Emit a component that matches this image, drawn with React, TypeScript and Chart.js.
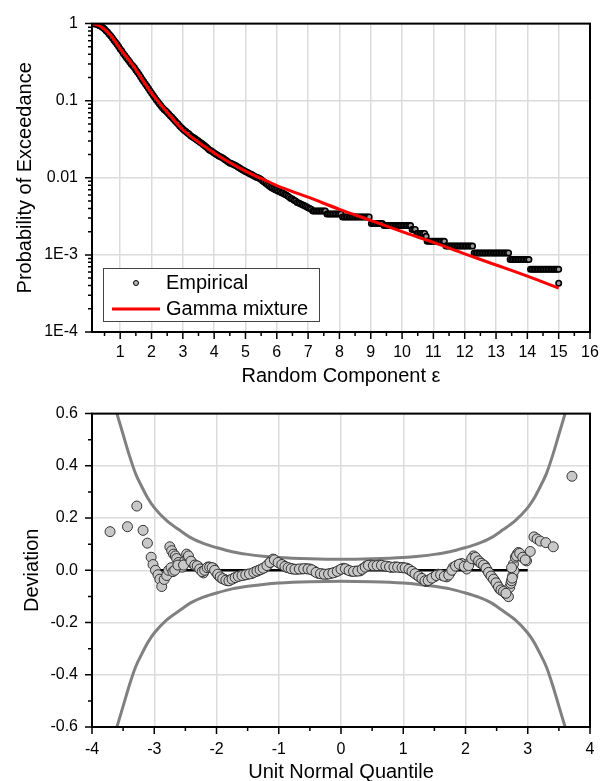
import React, { useEffect, useRef } from "react";
import { Chart, registerables } from "chart.js";

Chart.register(...registerables);

const FONT = "'Liberation Sans', Arial, Helvetica, sans-serif";

// ---------- Top chart data ----------
const empiricalHead: [number, number][] = [
  [0.12, 1.0], [0.16, 0.995], [0.2, 0.99], [0.25, 0.98], [0.3, 0.96], [0.35, 0.94], [0.4, 0.915], [0.45, 0.885],
  [0.5, 0.85], [0.55, 0.81], [0.6, 0.77], [0.65, 0.73], [0.7, 0.69], [0.75, 0.65], [0.8, 0.61], [0.85, 0.575],
  [0.9, 0.54], [0.95, 0.505], [1.0, 0.47], [1.05, 0.44], [1.1, 0.41], [1.15, 0.385], [1.2, 0.36], [1.25, 0.34],
  [1.3, 0.32], [1.35, 0.3], [1.4, 0.285], [1.45, 0.27], [1.5, 0.25], [1.55, 0.235], [1.6, 0.22], [1.65, 0.205],
  [1.7, 0.19], [1.75, 0.178], [1.8, 0.166], [1.85, 0.155], [1.9, 0.145], [1.95, 0.135], [2.0, 0.126], [2.05, 0.118],
  [2.1, 0.11], [2.15, 0.103], [2.2, 0.097], [2.25, 0.091], [2.3, 0.086], [2.35, 0.081], [2.4, 0.077], [2.45, 0.074],
  [2.5, 0.071], [2.55, 0.067], [2.6, 0.064], [2.65, 0.061], [2.7, 0.058], [2.75, 0.055], [2.8, 0.052], [2.85, 0.05],
  [2.9, 0.047], [2.95, 0.045], [3.0, 0.043], [3.05, 0.041], [3.1, 0.04], [3.15, 0.038], [3.2, 0.037], [3.25, 0.035],
  [3.3, 0.034], [3.35, 0.033], [3.4, 0.032], [3.45, 0.031], [3.5, 0.03], [3.55, 0.029], [3.6, 0.028], [3.65, 0.027],
  [3.7, 0.026], [3.75, 0.025], [3.8, 0.024], [3.85, 0.023], [3.9, 0.0225], [3.95, 0.0218], [4.0, 0.021], [4.05, 0.0204],
  [4.1, 0.0197], [4.15, 0.0192], [4.2, 0.0187], [4.25, 0.0183], [4.3, 0.0178], [4.35, 0.0172], [4.4, 0.0166], [4.45, 0.016],
  [4.5, 0.0156], [4.55, 0.0153], [4.6, 0.015], [4.65, 0.0147], [4.7, 0.0143], [4.75, 0.0139], [4.8, 0.0135], [4.85, 0.0131],
  [4.9, 0.0127], [4.95, 0.0124], [5.0, 0.0121], [5.05, 0.0118], [5.1, 0.0115], [5.15, 0.0112], [5.2, 0.011], [5.25, 0.0107],
  [5.3, 0.0104], [5.35, 0.0102], [5.4, 0.01], [5.45, 0.0098], [5.5, 0.0095], [5.55, 0.0091], [5.6, 0.0088], [5.65, 0.0085],
  [5.7, 0.0082], [5.75, 0.0079], [5.8, 0.0076], [5.85, 0.0074], [5.9, 0.0072], [5.95, 0.007], [6.0, 0.0069], [6.05, 0.0067],
  [6.1, 0.0066], [6.15, 0.0064], [6.2, 0.0063], [6.25, 0.0061], [6.3, 0.006], [6.35, 0.0058], [6.4, 0.0056], [6.45, 0.0054],
  [6.5, 0.0053], [6.55, 0.0051], [6.6, 0.005], [6.65, 0.0048], [6.7, 0.0047], [6.75, 0.0046], [6.8, 0.0045], [6.85, 0.0044],
  [6.9, 0.0043], [6.95, 0.0042], [7.0, 0.0041], [7.05, 0.004], [7.1, 0.0039],
];

const empiricalTailSteps: { y: number; x: number[] }[] = [
  { y: 0.0037, x: [7.15, 7.2, 7.25, 7.3, 7.35, 7.4, 7.45, 7.5, 7.55] },
  { y: 0.0034, x: [7.6, 7.65, 7.7, 7.75, 7.8, 7.85, 7.9, 7.95, 8.0, 8.05] },
  { y: 0.0031, x: [8.1, 8.15, 8.2, 8.25, 8.3, 8.35, 8.4, 8.45, 8.5, 8.55, 8.6, 8.65, 8.7, 8.75, 8.8, 8.85, 8.9, 8.95] },
  { y: 0.00255, x: [9.02, 9.07, 9.12, 9.17, 9.22, 9.27, 9.32, 9.37] },
  { y: 0.0024, x: [9.42, 9.47, 9.52, 9.57, 9.62, 9.67, 9.72, 9.77, 9.82, 9.87, 9.92, 9.97, 10.02, 10.07, 10.12, 10.17, 10.22, 10.27] },
  { y: 0.00214, x: [10.32, 10.37, 10.42] },
  { y: 0.0019, x: [10.47, 10.52, 10.57, 10.62, 10.67, 10.72] },
  { y: 0.00174, x: [10.77] },
  { y: 0.0015, x: [10.8, 10.85, 10.9, 10.95, 11.0, 11.05, 11.1, 11.15, 11.2, 11.25, 11.3, 11.35] },
  { y: 0.0013, x: [11.4, 11.45, 11.5, 11.55, 11.6, 11.65, 11.7, 11.75, 11.8, 11.85, 11.9, 11.95, 12.0, 12.05, 12.1, 12.15, 12.2, 12.25] },
  { y: 0.00106, x: [12.3, 12.35, 12.4, 12.45, 12.5, 12.55, 12.6, 12.65, 12.7, 12.75, 12.8, 12.85, 12.9, 12.95, 13.0, 13.05, 13.1, 13.15, 13.2, 13.25, 13.3, 13.35, 13.4] },
  { y: 0.00087, x: [13.45, 13.5, 13.55, 13.6, 13.65, 13.7, 13.75, 13.8, 13.85, 13.9, 13.95, 14.0, 14.05] },
  { y: 0.00065, x: [14.1, 14.15, 14.2, 14.25, 14.3, 14.35, 14.4, 14.45, 14.5, 14.55, 14.6, 14.65, 14.7, 14.75, 14.8, 14.85, 14.9, 14.95, 15.0] },
  { y: 0.00043, x: [15.0] },
];

const gammaX = [0.1, 0.35, 0.7, 1.0, 1.4, 2.0, 2.5, 3.0, 4.0, 5.0, 5.5, 6.0, 7.0, 8.0, 9.0, 10.0, 11.0, 12.0, 13.0, 14.0, 15.0];
const gammaY = [1.0, 0.93, 0.7, 0.47, 0.29, 0.125, 0.071, 0.042, 0.021, 0.0122, 0.0098, 0.0079, 0.0056, 0.0039, 0.0028, 0.002, 0.00145, 0.00103, 0.00074, 0.00053, 0.00037];

const topXTicks = [1, 2, 3, 4, 5, 6, 7, 8, 9, 10, 11, 12, 13, 14, 15, 16];
const topXTickLabels = ["1", "2", "3", "4", "5", "6", "7", "8", "9", "10", "11", "12", "13", "14", "15", "16"];
const topYTicks = [1e-4, 1e-3, 1e-2, 0.1, 1];
const topYTickLabels = ["1E-4", "1E-3", "0.01", "0.1", "1"];

// ---------- Bottom chart data ----------
const deviationPoints: [number, number][] = [
  [-3.71, 0.148], [-3.43, 0.167], [-3.28, 0.246], [-3.18, 0.153], [-3.11, 0.104], [-3.05, 0.05], [-3.02, 0.022], [-2.98, 0.0],
  [-2.94, -0.017], [-2.91, -0.034], [-2.88, -0.062], [-2.84, -0.035], [-2.8, -0.02], [-2.77, 0.0], [-2.75, 0.09], [-2.72, 0.075],
  [-2.69, 0.062], [-2.66, 0.055], [-2.64, 0.045], [-2.61, 0.03], [-2.58, 0.02], [-2.55, 0.012], [-2.51, 0.035], [-2.48, 0.062],
  [-2.46, 0.048], [-2.43, 0.04], [-2.4, 0.03], [-2.37, 0.024], [-2.33, 0.018], [-2.29, 0.013], [-2.25, 0.0], [-2.21, -0.01],
  [-2.17, 0.005], [-2.13, 0.013], [-2.09, 0.01], [-2.05, 0.008], [-2.0, -0.01], [-1.96, -0.022], [-1.92, -0.03], [-1.87, -0.035],
  [-1.82, -0.04], [-1.78, -0.037], [-1.72, -0.03], [-1.67, -0.025], [-1.62, -0.021], [-1.55, -0.018], [-1.5, -0.015], [-1.43, -0.012],
  [-1.37, -0.005], [-1.32, 0.0], [-1.27, 0.005], [-1.22, 0.011], [-1.16, 0.025], [-1.12, 0.035], [-1.09, 0.043], [-1.04, 0.035],
  [-0.98, 0.026], [-0.92, 0.018], [-0.87, 0.011], [-0.82, 0.008], [-0.77, 0.005], [-0.7, 0.004], [-0.63, 0.005], [-0.56, 0.006],
  [-0.5, 0.005], [-0.43, -0.003], [-0.36, -0.012], [-0.3, -0.014], [-0.23, -0.015], [-0.17, -0.012], [-0.1, -0.008], [-0.03, 0.0],
  [0.04, 0.008], [0.1, 0.002], [0.17, -0.004], [0.24, -0.003], [0.31, -0.002], [0.36, 0.008], [0.41, 0.017], [0.48, 0.02],
  [0.55, 0.017], [0.62, 0.02], [0.68, 0.017], [0.75, 0.015], [0.81, 0.011], [0.88, 0.013], [0.95, 0.011], [1.0, 0.01],
  [1.06, 0.008], [1.11, 0.0], [1.16, -0.008], [1.22, -0.018], [1.27, -0.027], [1.32, -0.035], [1.37, -0.043], [1.43, -0.034],
  [1.5, -0.025], [1.56, -0.015], [1.63, -0.02], [1.7, -0.025], [1.75, -0.01], [1.8, 0.011], [1.87, 0.02], [1.94, 0.026],
  [2.02, 0.005], [2.07, 0.03], [2.13, 0.055], [2.18, 0.042], [2.23, 0.03], [2.27, 0.024], [2.31, 0.017], [2.35, 0.0],
  [2.39, -0.015], [2.43, -0.028], [2.47, -0.04], [2.51, -0.056], [2.55, -0.072], [2.59, -0.078], [2.63, -0.084], [2.66, -0.093],
  [2.69, -0.101], [2.71, -0.065], [2.73, -0.05], [2.74, -0.04], [2.76, -0.02], [2.78, -0.002], [2.77, 0.024], [2.8, 0.05],
  [2.83, 0.062], [2.85, 0.068], [2.88, 0.06], [2.9, 0.055], [2.94, 0.045], [2.98, 0.036], [3.04, 0.072], [3.1, 0.128],
  [3.15, 0.12], [3.2, 0.112], [3.29, 0.106], [3.41, 0.09], [3.71, 0.36],
  [-2.73, 0.01], [-2.7, -0.005], [-2.67, 0.0], [-2.62, 0.02], [-2.53, 0.02], [-2.45, 0.055], [-2.41, 0.035], [-2.35, 0.02],
  [-2.31, 0.017], [-2.27, 0.005], [-2.23, -0.005], [-2.19, 0.0], [-2.15, 0.01], [-2.11, 0.012], [-2.07, 0.01], [-2.03, 0.0],
  [-1.98, -0.015], [-1.94, -0.025], [-1.9, -0.032], [-1.85, -0.038], [-1.8, -0.04], [-1.75, -0.034], [-1.7, -0.028], [-1.65, -0.023],
  [-1.59, -0.02], [-1.53, -0.017], [-1.47, -0.014], [-1.4, -0.008], [-1.35, -0.003], [-1.3, 0.002], [-1.25, 0.008], [-1.19, 0.018],
  [-1.14, 0.03], [-1.07, 0.04], [-1.01, 0.03], [-0.95, 0.022], [-0.9, 0.015], [-0.85, 0.01], [-0.8, 0.006], [-0.74, 0.004],
  [-0.67, 0.005], [-0.6, 0.006], [-0.53, 0.005], [-0.47, 0.002], [-0.4, -0.008], [-0.33, -0.013], [-0.27, -0.015], [-0.2, -0.014],
  [-0.13, -0.01], [-0.06, -0.004], [0.0, 0.004], [0.07, 0.006], [0.13, -0.001], [0.2, -0.004], [0.27, -0.003], [0.34, 0.004],
  [0.39, 0.012], [0.44, 0.019], [0.52, 0.018], [0.58, 0.018], [0.65, 0.019], [0.72, 0.016], [0.78, 0.013], [0.85, 0.012],
  [0.91, 0.012], [0.98, 0.01], [1.03, 0.009], [1.09, 0.004], [1.14, -0.004], [1.19, -0.013], [1.25, -0.023], [1.3, -0.031],
  [1.35, -0.04], [1.4, -0.039], [1.46, -0.03], [1.53, -0.02], [1.6, -0.017], [1.66, -0.023], [1.73, -0.018], [1.78, 0.0],
  [1.84, 0.016], [1.9, 0.023], [1.98, 0.015], [2.05, 0.018], [2.1, 0.045], [2.16, 0.05], [2.21, 0.036], [2.25, 0.027],
  [2.29, 0.02], [2.33, 0.008], [2.37, -0.008], [2.41, -0.022], [2.45, -0.034], [2.49, -0.048], [2.53, -0.064], [2.57, -0.075],
  [2.61, -0.081], [2.65, -0.088], [2.82, 0.055], [2.87, 0.065], [2.92, 0.05], [2.96, 0.04], [2.74, 0.01], [2.75, -0.03],
];

const bandX = [-3.6, -3.5, -3.4, -3.3, -3.2, -3.1, -3.0, -2.8, -2.6, -2.4, -2.2, -2.0, -1.75, -1.5, -1.25, -1.0, -0.5, 0,
  0.5, 1.0, 1.25, 1.5, 1.75, 2.0, 2.2, 2.4, 2.6, 2.8, 3.0, 3.1, 3.2, 3.3, 3.4, 3.5, 3.6];
const bandUpper = [0.6, 0.52, 0.44, 0.37, 0.32, 0.275, 0.24, 0.19, 0.155, 0.123, 0.102, 0.087, 0.071, 0.061, 0.054, 0.049, 0.044, 0.042,
  0.044, 0.049, 0.054, 0.061, 0.071, 0.087, 0.102, 0.123, 0.155, 0.19, 0.24, 0.275, 0.32, 0.37, 0.44, 0.52, 0.6];
const bandLower = [-0.6, -0.52, -0.44, -0.37, -0.32, -0.275, -0.24, -0.19, -0.155, -0.123, -0.102, -0.087, -0.071, -0.061, -0.054, -0.049, -0.044, -0.042,
  -0.044, -0.049, -0.054, -0.061, -0.071, -0.087, -0.102, -0.123, -0.155, -0.19, -0.24, -0.275, -0.32, -0.37, -0.44, -0.52, -0.6];

const zeroLineX = [-3.0, 3.0];
const zeroLineY = [0, 0];

const botXTicks = [-4, -3, -2, -1, 0, 1, 2, 3, 4];
const botXTickLabels = ["-4", "-3", "-2", "-1", "0", "1", "2", "3", "4"];
const botYTicks = [-0.6, -0.4, -0.2, 0, 0.2, 0.4, 0.6];
const botYTickLabels = ["-0.6", "-0.4", "-0.2", "0.0", "0.2", "0.4", "0.6"];

// minor tick positions (axis decoration)
const topXMinor: number[] = [];
for (let v = 0.5; v < 16; v += 1) topXMinor.push(v);
const topYMinor: number[] = [];
for (const d of [1e-4, 1e-3, 1e-2, 1e-1]) for (let k = 2; k <= 9; k++) topYMinor.push(k * d);
const botXMinor = [-3.5, -2.5, -1.5, -0.5, 0.5, 1.5, 2.5, 3.5];
const botYMinor = [-0.5, -0.3, -0.1, 0.1, 0.3, 0.5];

const GRID = "#dcdcdc";

function frameTicksPlugin(minorX: number[], minorY: number[]) {
  return {
    id: "frameTicks",
    afterDraw(chart: any) {
      const { ctx, chartArea } = chart;
      const { left, right, top, bottom } = chartArea;
      const xs = chart.scales.x;
      const ys = chart.scales.y;
      ctx.save();
      ctx.strokeStyle = "#000";
      ctx.lineWidth = 2;
      ctx.strokeRect(left, top, right - left, bottom - top);
      ctx.lineWidth = 1.5;
      ctx.beginPath();
      for (const t of xs.ticks) {
        const p = xs.getPixelForValue(t.value);
        ctx.moveTo(p, bottom);
        ctx.lineTo(p, bottom + 7);
      }
      for (const v of minorX) {
        const p = xs.getPixelForValue(v);
        ctx.moveTo(p, bottom);
        ctx.lineTo(p, bottom + 4);
      }
      for (const t of ys.ticks) {
        const p = ys.getPixelForValue(t.value);
        ctx.moveTo(left, p);
        ctx.lineTo(left - 7, p);
      }
      for (const v of minorY) {
        const p = ys.getPixelForValue(v);
        ctx.moveTo(left, p);
        ctx.lineTo(left - 4, p);
      }
      ctx.stroke();
      ctx.restore();
    },
  };
}

const legendPlugin = {
  id: "customLegend",
  afterDraw(chart: any) {
    const { ctx, chartArea } = chart;
    const bx = chartArea.left + 11;
    const by = chartArea.bottom - 64;
    const bw = 216;
    const bh = 53;
    ctx.save();
    ctx.fillStyle = "#fff";
    ctx.fillRect(bx, by, bw, bh);
    ctx.strokeStyle = "#444";
    ctx.lineWidth = 1;
    ctx.strokeRect(bx + 0.5, by + 0.5, bw, bh);
    ctx.beginPath();
    ctx.arc(bx + 33, by + 15, 2.5, 0, Math.PI * 2);
    ctx.fillStyle = "#b4b4b4";
    ctx.fill();
    ctx.strokeStyle = "#000";
    ctx.lineWidth = 1;
    ctx.stroke();
    ctx.beginPath();
    ctx.moveTo(bx + 9, by + 41);
    ctx.lineTo(bx + 57, by + 41);
    ctx.strokeStyle = "#ff0000";
    ctx.lineWidth = 3;
    ctx.stroke();
    ctx.fillStyle = "#000";
    ctx.font = `20px ${FONT}`;
    ctx.textBaseline = "middle";
    ctx.textAlign = "left";
    ctx.fillText("Empirical", bx + 63, by + 15);
    ctx.fillText("Gamma mixture", bx + 63, by + 41);
    ctx.restore();
  },
};

function TopChart() {
  const ref = useRef<HTMLCanvasElement | null>(null);
  useEffect(() => {
    if (!ref.current) return;
    const empirical: { x: number; y: number }[] = empiricalHead.map(([x, y]) => ({ x, y }));
    for (const s of empiricalTailSteps) for (const x of s.x) empirical.push({ x, y: s.y });
    const chart = new Chart(ref.current, {
      type: "scatter",
      data: {
        datasets: [
          {
            label: "Gamma mixture",
            data: gammaX.map((x, i) => ({ x, y: gammaY[i] })),
            showLine: true,
            borderColor: "#ff0000",
            borderWidth: 3,
            pointRadius: 0,
            cubicInterpolationMode: "monotone",
            order: 0,
          } as any,
          {
            label: "Empirical",
            data: empirical,
            showLine: false,
            pointRadius: 2.7,
            pointBackgroundColor: "#9a9a9a",
            pointBorderColor: "#000",
            pointBorderWidth: 1.6,
            order: 1,
          } as any,
        ],
      },
      options: {
        responsive: false,
        animation: false,
        layout: { padding: { top: 16, right: 24, left: 0, bottom: 0 } },
        plugins: { legend: { display: false }, tooltip: { enabled: false } },
        scales: {
          x: {
            type: "linear",
            min: 0.1,
            max: 16,
            afterFit: (s: any) => { s.height = 58; },
            afterBuildTicks: (s: any) => { s.ticks = topXTicks.map((v) => ({ value: v })); },
            grid: { color: GRID, lineWidth: 1.5, drawTicks: false },
            border: { display: false },
            ticks: {
              autoSkip: false,
              maxRotation: 0,
              padding: 11,
              color: "#000",
              font: { size: 16, family: FONT },
              callback: (_v: any, i: number) => topXTickLabels[i],
            },
            title: {
              display: true,
              text: "Random Component ε",
              color: "#000",
              font: { size: 20, family: FONT },
              padding: { top: 0, bottom: 1.5 },
            },
          },
          y: {
            type: "logarithmic",
            min: 1e-4,
            max: 1,
            afterFit: (s: any) => { s.width = 92; },
            afterBuildTicks: (s: any) => { s.ticks = topYTicks.map((v) => ({ value: v })); },
            grid: { color: GRID, lineWidth: 1.5, drawTicks: false },
            border: { display: false },
            ticks: {
              autoSkip: false,
              padding: 14,
              color: "#000",
              font: { size: 16, family: FONT },
              callback: (_v: any, i: number) => topYTickLabels[i],
            },
            title: {
              display: true,
              text: "Probability of Exceedance",
              color: "#000",
              font: { size: 20, family: FONT },
              padding: { top: 13, bottom: 0 },
            },
          },
        },
      } as any,
      plugins: [frameTicksPlugin(topXMinor, topYMinor), legendPlugin],
    });
    return () => chart.destroy();
  }, []);
  return <canvas ref={ref} width={614} height={390} style={{ position: "absolute", left: 0, top: 0, width: 614, height: 390 }} />;
}

function BottomChart() {
  const ref = useRef<HTMLCanvasElement | null>(null);
  useEffect(() => {
    if (!ref.current) return;
    const chart = new Chart(ref.current, {
      type: "scatter",
      data: {
        datasets: [
          {
            label: "Deviation",
            data: deviationPoints.map(([x, y]) => ({ x, y })),
            showLine: false,
            pointRadius: 5,
            pointBackgroundColor: "#c8c8c8",
            pointBorderColor: "#333",
            pointBorderWidth: 1,
            order: 0,
          } as any,
          {
            label: "Zero",
            data: zeroLineX.map((x, i) => ({ x, y: zeroLineY[i] })),
            showLine: true,
            borderColor: "#000",
            borderWidth: 2.5,
            pointRadius: 0,
            order: 1,
          } as any,
          {
            label: "Upper",
            data: bandX.map((x, i) => ({ x, y: bandUpper[i] })),
            showLine: true,
            borderColor: "#808080",
            borderWidth: 3,
            pointRadius: 0,
            cubicInterpolationMode: "monotone",
            order: 2,
          } as any,
          {
            label: "Lower",
            data: bandX.map((x, i) => ({ x, y: bandLower[i] })),
            showLine: true,
            borderColor: "#808080",
            borderWidth: 3,
            pointRadius: 0,
            cubicInterpolationMode: "monotone",
            order: 2,
          } as any,
        ],
      },
      options: {
        responsive: false,
        animation: false,
        layout: { padding: { top: 22, right: 24, left: 0, bottom: 0 } },
        plugins: { legend: { display: false }, tooltip: { enabled: false } },
        scales: {
          x: {
            type: "linear",
            min: -4,
            max: 4,
            afterFit: (s: any) => { s.height = 58; },
            afterBuildTicks: (s: any) => { s.ticks = botXTicks.map((v) => ({ value: v })); },
            grid: { color: GRID, lineWidth: 1.5, drawTicks: false },
            border: { display: false },
            ticks: {
              autoSkip: false,
              maxRotation: 0,
              padding: 13,
              color: "#000",
              font: { size: 16, family: FONT },
              callback: (_v: any, i: number) => botXTickLabels[i],
            },
            title: {
              display: true,
              text: "Unit Normal Quantile",
              color: "#000",
              font: { size: 20, family: FONT },
              padding: { top: 0, bottom: 1 },
            },
          },
          y: {
            type: "linear",
            min: -0.6,
            max: 0.6,
            afterFit: (s: any) => { s.width = 92; },
            afterBuildTicks: (s: any) => { s.ticks = botYTicks.map((v) => ({ value: v })); },
            grid: { color: GRID, lineWidth: 1.5, drawTicks: false },
            border: { display: false },
            ticks: {
              autoSkip: false,
              padding: 14,
              color: "#000",
              font: { size: 16, family: FONT },
              callback: (_v: any, i: number) => botYTickLabels[i],
            },
            title: {
              display: true,
              text: "Deviation",
              color: "#000",
              font: { size: 20, family: FONT },
              padding: { top: 20, bottom: 0 },
            },
          },
        },
      } as any,
      plugins: [frameTicksPlugin(botXMinor, botYMinor)],
    });
    return () => chart.destroy();
  }, []);
  return <canvas ref={ref} width={614} height={395} style={{ position: "absolute", left: 0, top: 390, width: 614, height: 395 }} />;
}

export default function App() {
  return (
    <div style={{ position: "absolute", left: 0, top: 0, width: 614, height: 781, overflow: "hidden", background: "#fff" }}>
      <TopChart />
      <BottomChart />
    </div>
  );
}
